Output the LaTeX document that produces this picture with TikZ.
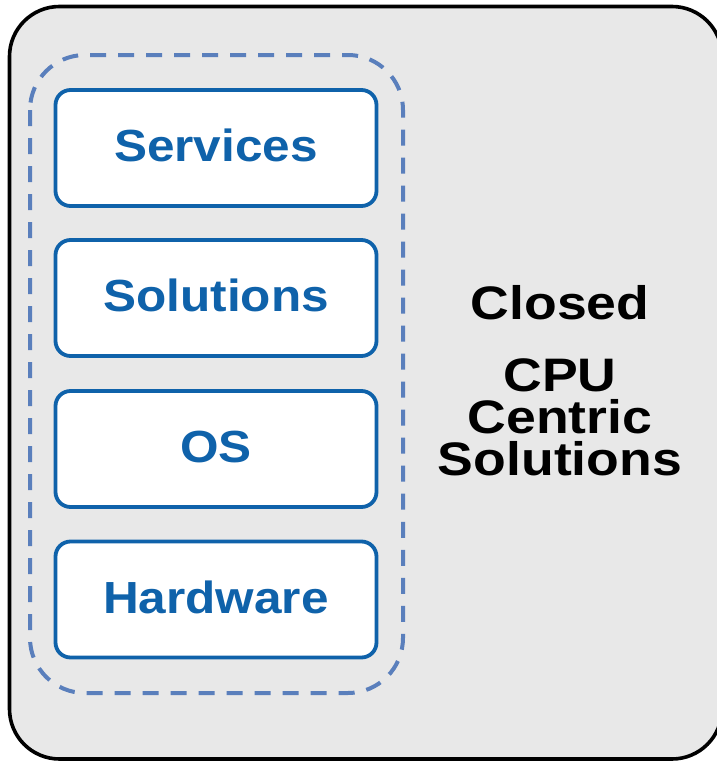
\documentclass[tikz,border=0pt]{standalone}
\usepackage{fontspec}
\setmainfont{Liberation Sans}
\newfontfamily\layerfont[FakeStretch=1.1]{Liberation Sans}
\newfontfamily\sidefont[FakeStretch=1.14]{Liberation Sans}
\usetikzlibrary{positioning}

\definecolor{layerblue}{HTML}{0F62AA}
\definecolor{groupblue}{HTML}{5A7FBC}
\definecolor{panelgray}{HTML}{E8E8E8}

\begin{document}
\begin{tikzpicture}[x=1pt,y=-1pt]
            \tikzstyle{layer}=[rectangle,rounded corners=15pt,minimum width=321pt,minimum height=116pt,
                line width=3.8pt,draw=layerblue,fill=white,text=layerblue,text depth=5pt,
                font=\layerfont\bfseries\fontsize{45}{54}\selectfont]
            \tikzstyle{side}=[inner sep=0pt,align=center,
                font=\sidefont\bfseries\fontsize{47}{42}\selectfont]

            \useasboundingbox (0,0) rectangle (717,763);

            % outer panel, runs off the right edge
            \draw[line width=3.6pt,fill=panelgray,rounded corners=50pt] (9.5,6.5) rectangle (722,759);

            % dashed group round the stack
            \draw[line width=4pt,draw=groupblue,dash pattern=on 16pt off 12pt,rounded corners=55pt]
                (30,55) rectangle (403,693);

            \node[layer] (services)  at (216,148) {Services};
            \node[layer] (solutions) at (216,298) {Solutions};
            \node[layer] (os)        at (216,449) {OS};
            \node[layer] (hardware)  at (216,599.5) {Hardware};

            \node[side,anchor=base]  (closed) at (560,319) {Closed};
            \node[side,anchor=north] (cpu)    at (560,358) {CPU\\Centric\\Solutions};
\end{tikzpicture}
\end{document}
